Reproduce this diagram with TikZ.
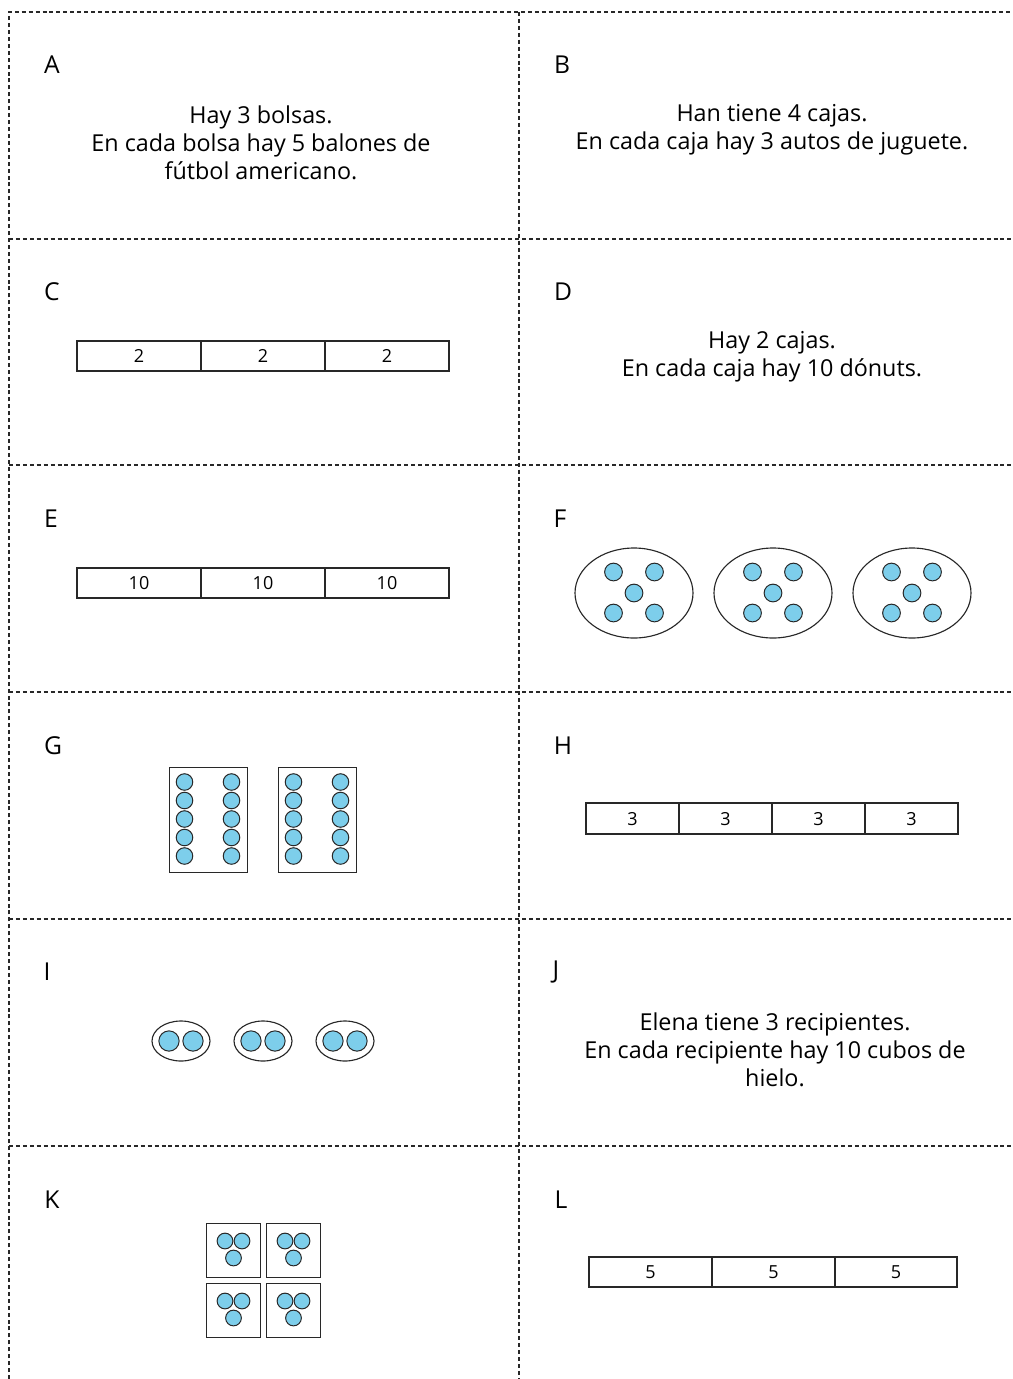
\documentclass[tikz,border=0pt]{standalone}
\usepackage{fontspec}
\setmainfont{Open Sans}
\definecolor{dotblue}{RGB}{125,206,235}
\definecolor{lineg}{RGB}{40,40,40}
\begin{document}
\begin{tikzpicture}[x=0.75pt,y=-0.75pt,
  cut/.style={draw=lineg,line width=0.9pt,dash pattern=on 3pt off 2.2pt},
  lbl/.style={font=\fontsize{18.5}{20}\selectfont,anchor=center,inner sep=0pt},
  txt/.style={font=\fontsize{17.5}{21}\selectfont,align=center,anchor=center,inner sep=0pt},
  tape/.style={draw=lineg,line width=1.05pt},
  num/.style={font=\fontsize{13.5}{15}\selectfont,anchor=center,inner sep=0pt},
  dot/.style={circle,draw=lineg,line width=0.75pt,fill=dotblue,inner sep=0pt,minimum size=#1},
  ring/.style={draw=lineg,line width=0.85pt},
  boxs/.style={draw=lineg,line width=0.75pt}]
\useasboundingbox (0,0) rectangle (1013,1379);
% grid
\draw[cut] (9,1379) -- (9,12) -- (1013,12);
\draw[cut] (519,12) -- (519,1379);
\foreach \yy in {239,465,692,919,1146} \draw[cut] (9,\yy) -- (1013,\yy);
% labels
\node[lbl] (lA) at (52,65) {A};
\node[lbl] (lB) at (562,65) {B};
\node[lbl] (lC) at (52,292) {C};
\node[lbl] (lD) at (563,292) {D};
\node[lbl] (lE) at (51,519) {E};
\node[lbl] (lF) at (560,519) {F};
\node[lbl] (lG) at (53,746) {G};
\node[lbl] (lH) at (563,746) {H};
\node[lbl] (lI) at (47,972) {I};
\node[lbl] (lJ) at (556,972) {J};
\node[lbl] (lK) at (52,1200) {K};
\node[lbl] (lL) at (561,1200) {L};
% texts
\node[txt] (tA) at (261,143) {Hay 3 bolsas.\\En cada bolsa hay 5 balones de\\fútbol americano.};
\node[txt] (tB) at (772,130) {Han tiene 4 cajas.\\En cada caja hay 3 autos de juguete.};
\node[txt] (tD) at (772,357) {Hay 2 cajas.\\En cada caja hay 10 dónuts.};
\node[txt] (tJ) at (775,1050) {Elena tiene 3 recipientes.\\En cada recipiente hay 10 cubos de\\hielo.};
% C tape
\draw[tape] (77,341) rectangle (449,371);
\draw[tape] (201,341) -- (201,371) (325,341) -- (325,371);
\node[num] (c1) at (139,356) {2};
\node[num] (c2) at (263,356) {2};
\node[num] (c3) at (387,356) {2};
% E tape
\draw[tape] (77,568) rectangle (449,598);
\draw[tape] (201,568) -- (201,598) (325,568) -- (325,598);
\node[num] (e1) at (139,583) {10};
\node[num] (e2) at (263,583) {10};
\node[num] (e3) at (387,583) {10};
% H tape
\draw[tape] (586,803) rectangle (958,834);
\draw[tape] (679,803) -- (679,834) (772,803) -- (772,834) (865,803) -- (865,834);
\node[num] (h1) at (632.5,819) {3};
\node[num] (h2) at (725.5,819) {3};
\node[num] (h3) at (818.5,819) {3};
\node[num] (h4) at (911.5,819) {3};
% L tape
\draw[tape] (589,1257) rectangle (957,1287);
\draw[tape] (712,1257) -- (712,1287) (835,1257) -- (835,1287);
\node[num] (l1) at (650.5,1272) {5};
\node[num] (l2) at (773.5,1272) {5};
\node[num] (l3) at (896,1272) {5};
% F ellipses
\foreach \cx/\n in {634/1,773/2,912/3}{
  \draw[ring] (\cx,593) ellipse [x radius=44.25pt, y radius=33.75pt];
  \node[dot=13.3pt] (f\n a) at (\cx-20.5,572) {};
  \node[dot=13.3pt] (f\n b) at (\cx+20.5,572) {};
  \node[dot=13.3pt] (f\n c) at (\cx,593) {};
  \node[dot=13.3pt] (f\n d) at (\cx-20.5,613) {};
  \node[dot=13.3pt] (f\n e) at (\cx+20.5,613) {};
}
% G rectangles
\foreach \xl/\n in {169/1,278/2}{
  \draw[boxs] (\xl,767) rectangle (\xl+78,872);
  \foreach \yy/\m in {782/1,800.5/2,819/3,837.5/4,856/5}{
    \node[dot=12.4pt] (g\n l\m) at (\xl+15.5,\yy) {};
    \node[dot=12.4pt] (g\n r\m) at (\xl+62.5,\yy) {};
  }
}
% I ellipses
\foreach \cx/\n in {181/1,263/2,345/3}{
  \draw[ring] (\cx,1041) ellipse [x radius=21.75pt, y radius=15pt];
  \node[dot=15.2pt] (i\n a) at (\cx-12,1041) {};
  \node[dot=15.2pt] (i\n b) at (\cx+12,1041) {};
}
% K squares
\foreach \xl/\yt/\n in {206/1223/1,266/1223/2,206/1283/3,266/1283/4}{
  \draw[boxs] (\xl,\yt) rectangle (\xl+54,\yt+54);
  \node[dot=11.8pt] (k\n a) at (\xl+19,\yt+18) {};
  \node[dot=11.8pt] (k\n b) at (\xl+36,\yt+18) {};
  \node[dot=11.8pt] (k\n c) at (\xl+27.5,\yt+35) {};
}
\end{tikzpicture}
\end{document}
